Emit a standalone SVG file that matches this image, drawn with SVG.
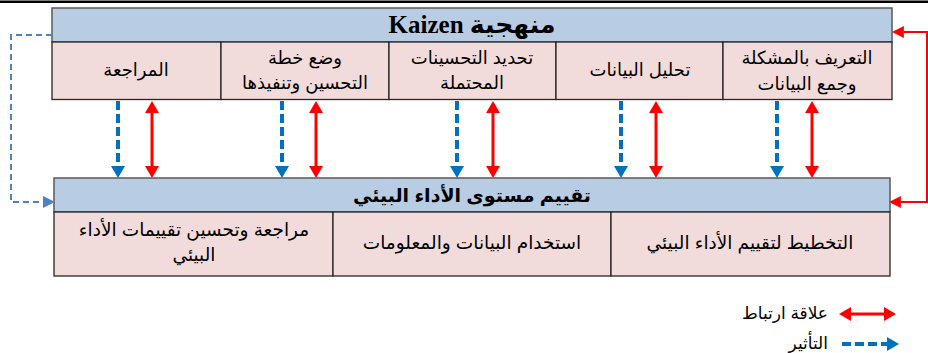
<svg xmlns="http://www.w3.org/2000/svg" width="928" height="353" viewBox="0 0 928 353">
<style>
.hdr{fill:#b8cce4;stroke:#595959;stroke-width:1.5}
.cell{fill:#f2dcdb;stroke:#262626;stroke-width:1.3}
.t{font-family:"Liberation Sans","DejaVu Sans",sans-serif;font-size:18px;fill:#000;text-anchor:middle}
.tb{font-size:18.5px}
.title{font-family:"Liberation Serif","DejaVu Sans",serif;font-size:25px;font-weight:bold;fill:#000;text-anchor:middle}
.lg{font-family:"Liberation Sans","DejaVu Sans",sans-serif;font-size:17px;fill:#000;text-anchor:end}
.blue{stroke:#0070c0;stroke-width:4;stroke-dasharray:9 4;fill:none}
.red{stroke:#ff0000;stroke-width:3;fill:none}
</style>
<defs>
<marker id="bh" markerUnits="userSpaceOnUse" markerWidth="14" markerHeight="14" viewBox="0 0 12 14" refX="0" refY="7" orient="auto"><path d="M0,0 L12,7 L0,14 z" fill="#0070c0"/></marker>
<marker id="rh" markerUnits="userSpaceOnUse" markerWidth="14" markerHeight="14" viewBox="0 0 12 14" refX="0" refY="7" orient="auto-start-reverse"><path d="M0,0 L12,7 L0,14 z" fill="#ff0000"/></marker>
<marker id="sh" markerUnits="userSpaceOnUse" markerWidth="12" markerHeight="12" viewBox="0 0 11 11" refX="0" refY="5.5" orient="auto"><path d="M0,0 L11,5.5 L0,11 z" fill="#4f81bd"/></marker>
<marker id="rs" markerUnits="userSpaceOnUse" markerWidth="12" markerHeight="12" viewBox="0 0 11 11" refX="0" refY="5.5" orient="auto"><path d="M0,0 L11,5.5 L0,11 z" fill="#ff0000"/></marker>
</defs>
<rect x="0" y="0" width="928" height="353" fill="#fff"/>
<rect x="0" y="0.5" width="928" height="2.5" fill="#000"/>

<g id="kaizen">
<rect class="hdr" x="52" y="8" width="840" height="34"/>
<text class="title" x="472" y="33" direction="rtl">منهجية Kaizen</text>
</g>
<g id="k-review">
<rect class="cell" x="52" y="42" width="169" height="57.5"/>
<text class="t" x="136" y="76">المراجعة</text>
</g>
<g id="k-plan">
<rect class="cell" x="221" y="42" width="168" height="57.5"/>
<text class="t" x="305" y="64">وضع خطة</text>
<text class="t" x="305" y="89">التحسين وتنفيذها</text>
</g>
<g id="k-identify">
<rect class="cell" x="389" y="42" width="167" height="57.5"/>
<text class="t" x="472" y="64">تحديد التحسينات</text>
<text class="t" x="472" y="89">المحتملة</text>
</g>
<g id="k-analyze">
<rect class="cell" x="556" y="42" width="167" height="57.5"/>
<text class="t" x="640" y="76">تحليل البيانات</text>
</g>
<g id="k-define">
<rect class="cell" x="723" y="42" width="169" height="57.5"/>
<text class="t" x="807" y="64">التعريف بالمشكلة</text>
<text class="t" x="807" y="90">وجمع البيانات</text>
</g>

<g id="env">
<rect class="hdr" x="54" y="178" width="836" height="34"/>
<text class="title" x="472" y="202" style="font-family:'Liberation Sans','DejaVu Sans',sans-serif;font-size:19px">تقييم مستوى الأداء البيئي</text>
</g>
<g id="e-review">
<rect class="cell" x="54" y="212" width="279" height="64"/>
<text class="t tb" x="194" y="236">مراجعة وتحسين تقييمات الأداء</text>
<text class="t tb" x="194" y="261">البيئي</text>
</g>
<g id="e-use">
<rect class="cell" x="333" y="212" width="278" height="64"/>
<text class="t tb" x="472" y="249">استخدام البيانات والمعلومات</text>
</g>
<g id="e-plan">
<rect class="cell" x="611" y="212" width="279" height="64"/>
<text class="t tb" x="750" y="249">التخطيط لتقييم الأداء البيئي</text>
</g>

<g id="connectors">
<line class="blue" x1="118" y1="101" x2="118" y2="166" marker-end="url(#bh)"/>
<line class="blue" x1="282" y1="101" x2="282" y2="166" marker-end="url(#bh)"/>
<line class="blue" x1="457" y1="101" x2="457" y2="166" marker-end="url(#bh)"/>
<line class="blue" x1="621" y1="101" x2="621" y2="166" marker-end="url(#bh)"/>
<line class="blue" x1="777" y1="101" x2="777" y2="166" marker-end="url(#bh)"/>
<line class="red" x1="152" y1="113" x2="152" y2="166" marker-start="url(#rh)" marker-end="url(#rh)"/>
<line class="red" x1="316" y1="113" x2="316" y2="166" marker-start="url(#rh)" marker-end="url(#rh)"/>
<line class="red" x1="493" y1="113" x2="493" y2="166" marker-start="url(#rh)" marker-end="url(#rh)"/>
<line class="red" x1="656" y1="113" x2="656" y2="166" marker-start="url(#rh)" marker-end="url(#rh)"/>
<line class="red" x1="812" y1="113" x2="812" y2="166" marker-start="url(#rh)" marker-end="url(#rh)"/>
<path d="M52,35 H11 V202 H43" fill="none" stroke="#4f81bd" stroke-width="2" stroke-dasharray="6 4" marker-end="url(#sh)"/>
<path d="M904,32 H927 V202 H901" fill="none" stroke="#ff0000" stroke-width="2"/>
<line x1="904" y1="32" x2="904.1" y2="32" stroke="#ff0000" stroke-width="2" marker-end="url(#rs)" transform="rotate(180 904 32)"/>
<line x1="901" y1="202" x2="901.1" y2="202" stroke="#ff0000" stroke-width="2" marker-end="url(#rs)" transform="rotate(180 901 202)"/>
</g>

<g id="legend">
<line class="red" x1="851" y1="314" x2="884" y2="314" stroke-width="4" marker-start="url(#rh)" marker-end="url(#rh)"/>
<text class="lg" x="828" y="319">علاقة ارتباط</text>
<line class="blue" x1="842" y1="344" x2="887" y2="344" marker-end="url(#bh)"/>
<text class="lg" x="828" y="349">التأثير</text>
</g>
</svg>
